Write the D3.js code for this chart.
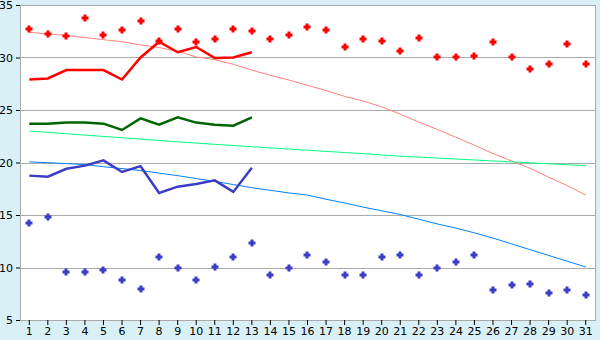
<!DOCTYPE html>
<html>
<head>
<meta charset="utf-8">
<script src="https://cdn.jsdelivr.net/npm/d3@7"></script>
<style>
  body { margin: 0; background: #d9f0f7; }
  svg { display: block; }
  .tick text { font-family: "DejaVu Sans", sans-serif; font-size: 11px; fill: #000; }
</style>
</head>
<body>
<svg id="chart" width="600" height="340"></svg>
<script>
// days 1..31
var days = d3.range(1, 32);

// red series: daily points, 13-day line, trend
var redPoints = [32.7, 32.2, 32.0, 33.8, 32.1, 32.6, 33.5, 31.6, 32.7, 31.5,
                 31.8, 32.7, 32.5, 31.8, 32.1, 32.9, 32.6, 31.0, 31.8, 31.6,
                 30.6, 31.9, 30.0, 30.0, 30.1, 31.5, 30.0, 28.9, 29.4, 31.3, 29.4];
var redLine = [27.9, 28.0, 28.8, 28.8, 28.8, 27.9, 30.0, 31.5, 30.5, 31.0, 29.95, 30.0, 30.5];
var redTrend = [32.4, 32.25, 32.1, 31.9, 31.7, 31.5, 31.2, 30.95, 30.6, 30.05,
                29.8, 29.35, 28.8, 28.3, 27.85, 27.35, 26.85, 26.3, 25.85, 25.3,
                24.6, 23.85, 23.15, 22.4, 21.65, 20.85, 20.15, 19.45, 18.6, 17.8, 16.9];

// green series
var greenLine = [23.7, 23.7, 23.8, 23.8, 23.7, 23.1, 24.2, 23.6, 24.3, 23.8, 23.6, 23.5, 24.3];
var greenTrend = [23.0, 22.87, 22.74, 22.61, 22.48, 22.36, 22.23, 22.1, 21.97, 21.85,
                  21.73, 21.62, 21.5, 21.39, 21.28, 21.17, 21.06, 20.95, 20.84, 20.72,
                  20.6, 20.51, 20.42, 20.33, 20.24, 20.15, 20.06, 19.97, 19.88, 19.79, 19.7];

// blue series
var bluePoints = [14.2, 14.8, 9.6, 9.6, 9.8, 8.8, 7.95, 11.0, 9.95, 8.8,
                  10.05, 11.0, 12.35, 9.3, 9.95, 11.2, 10.5, 9.3, 9.3, 11.0,
                  11.2, 9.3, 9.95, 10.5, 11.2, 7.85, 8.3, 8.4, 7.55, 7.85, 7.35];
var blueLine = [18.75, 18.65, 19.4, 19.7, 20.2, 19.1, 19.65, 17.1, 17.7, 17.95, 18.3, 17.2, 19.5];
var blueTrend = [20.06, 19.98, 19.9, 19.8, 19.6, 19.42, 19.23, 18.99, 18.75, 18.47,
                 18.2, 17.9, 17.6, 17.35, 17.1, 16.9, 16.5, 16.15, 15.75, 15.4,
                 15.05, 14.6, 14.15, 13.75, 13.3, 12.8, 12.25, 11.7, 11.15, 10.6, 10.05];

var yTicks = [5, 10, 15, 20, 25, 30, 35];

var margin = {top: 5, right: 5, bottom: 20, left: 20};
var width = 600, height = 340;
var svg = d3.select("#chart");

var x = d3.scaleBand()
    .domain(days)
    .range([margin.left, width - margin.right]);
var y = d3.scaleLinear()
    .domain([5, 35])
    .range([height - margin.bottom, margin.top]);

function cx(d) { return x(d) + x.bandwidth() / 2; }

// plot background
svg.append("rect")
    .attr("x", margin.left).attr("y", margin.top)
    .attr("width", width - margin.left - margin.right)
    .attr("height", height - margin.top - margin.bottom)
    .attr("fill", "#fff")
    .attr("stroke", "#aaa")
    .attr("shape-rendering", "crispEdges");

// gridlines
svg.append("g")
    .selectAll("line")
    .data(yTicks.slice(1, -1))
    .join("line")
    .attr("x1", margin.left).attr("x2", width - margin.right)
    .attr("y1", d => Math.round(y(d)) + 0.5).attr("y2", d => Math.round(y(d)) + 0.5)
    .attr("stroke", "#aaa");

// axes
var xAxis = svg.append("g")
    .attr("transform", "translate(0," + (height - margin.bottom) + ")")
    .call(d3.axisBottom(x).tickSize(5).tickPadding(2).tickSizeOuter(0));
xAxis.select(".domain").attr("stroke", "#aaa");
xAxis.selectAll(".tick line").attr("stroke", "#000");

var yAxis = svg.append("g")
    .attr("transform", "translate(" + margin.left + ",0)")
    .call(d3.axisLeft(y).tickValues(yTicks).tickSize(4).tickPadding(2).tickSizeOuter(0));
yAxis.select(".domain").attr("stroke", "#aaa");
yAxis.selectAll(".tick line").attr("stroke", "#000");
yAxis.selectAll(".tick text").attr("dx", "-1px");

// trend lines
var line = d3.line()
    .x((d, i) => cx(days[i]))
    .y(d => y(d));

function drawLine(data, color, w) {
  svg.append("path")
      .datum(data)
      .attr("fill", "none")
      .attr("stroke", color)
      .attr("stroke-width", w)
      .attr("d", line);
}

drawLine(redTrend, "#ff8080", 1);
drawLine(greenTrend, "#00ff80", 1);
drawLine(blueTrend, "#0080ff", 1);

drawLine(redLine, "#ff0000", 2.5);
drawLine(greenLine, "#006400", 2.5);
drawLine(blueLine, "#3c3cc8", 2.5);

// point markers (small plus/diamond)
var marker = "M-1.5,-3.5h3v2h2v3h-2v2h-3v-2h-2v-3h2z";

function drawPoints(data, color) {
  svg.append("g")
      .selectAll("path")
      .data(data)
      .join("path")
      .attr("transform", (d, i) => "translate(" + Math.round(cx(days[i])) + "," + Math.round(y(d)) + ")")
      .attr("d", marker)
      .attr("fill", color);
}

drawPoints(redPoints, "#ff0000");
drawPoints(bluePoints, "#3c3cc8");
</script>
</body>
</html>
